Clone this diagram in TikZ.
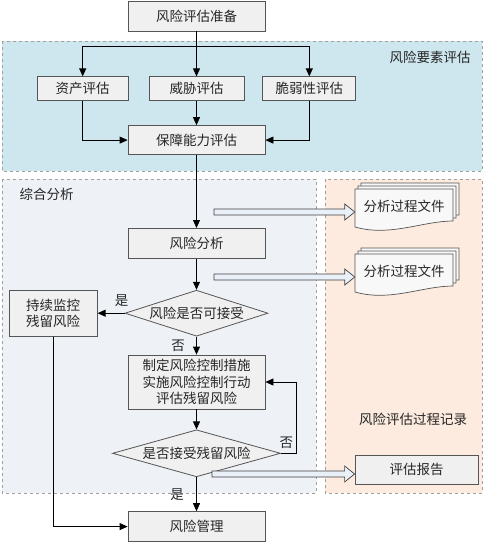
\documentclass[tikz,border=0pt]{standalone}
\usepackage{fontspec}
\setmainfont{Noto Sans CJK SC}
\usetikzlibrary{shapes.geometric, arrows.meta, calc, positioning}
\definecolor{zoneblue}{RGB}{206,231,238}
\definecolor{zonegray}{RGB}{238,241,246}
\definecolor{zoneorange}{RGB}{252,235,222}
\definecolor{boxfill}{RGB}{240,240,240}
\definecolor{boxline}{RGB}{85,85,85}
\definecolor{hollowfill}{RGB}{234,240,248}
\tikzstyle{block} = [rectangle, draw=boxline, fill=boxfill, line width=0.8pt, text centered, align=center, inner sep=2pt, minimum height=30pt]
\tikzstyle{decision} = [diamond, draw=boxline, fill=boxfill, line width=0.8pt, inner sep=0pt, aspect=3.2]
\tikzstyle{zone} = [draw=gray!75, dashed, line width=0.8pt]
\tikzstyle{arrow} = [line width=0.8pt,-{Triangle[length=8pt,width=7pt]}]
\tikzstyle{line} = [line width=0.8pt]
\tikzstyle{hollow} = [draw=black!75, fill=hollowfill, line width=0.7pt]
\tikzstyle{page} = [draw=boxline, fill=boxfill!50!white, line width=0.7pt]
\tikzstyle{doc} = [minimum width=98pt, minimum height=38pt, inner sep=0pt]
\newcommand{\hollowarrow}[2]{%
	\draw[hollow] ($#1+(0,-3)$) -- ($#2+(-10,-3)$) -- ($#2+(-10,-8)$) -- #2 -- ($#2+(-10,8)$) -- ($#2+(-10,3)$) -- ($#1+(0,3)$) -- cycle;}
\newcommand{\docstack}[1]{%
	\foreach \k in {2,1,0}{%
		\draw[page] ($#1+(-49+3*\k,-19-3*\k)$) -- ($#1+(49+3*\k,-19-3*\k)$) -- ($#1+(49+3*\k,13-3*\k)$) .. controls ($#1+(19+3*\k,13-3*\k)$) and ($#1+(-14+3*\k,29-3*\k)$) .. ($#1+(-49+3*\k,19-3*\k)$) -- cycle;
	}}
\begin{document}
\begin{tikzpicture}[x=1pt, y=-1pt, font=\fontsize{13.5}{16.5}\selectfont, text=black!85]
	\useasboundingbox (0,0) rectangle (500,552);
	% zones
	\draw[zone, fill=zoneblue] (2,41) rectangle (482,171);
	\draw[zone, fill=zonegray] (2,179) rectangle (316,493);
	\draw[zone, fill=zoneorange] (325,179) rectangle (482,493);
	\node (ZoneFactor) at (430,57) {风险要素评估};
	\node (ZoneAnalysis) [anchor=west] at (16,194) {综合分析};
	\node (ZoneRecord) at (413,419) {风险评估过程记录};
	% main column
	\node (Prepare) [block, minimum width=137pt] at (196.5,16) {风险评估准备};
	\node (Threat) [block, minimum width=95pt, minimum height=24pt, below = 45pt of Prepare] {威胁评估};
	\node (Asset) [block, minimum width=91pt, minimum height=24pt, left = 20pt of Threat] {资产评估};
	\node (Vuln) [block, minimum width=93pt, minimum height=24pt, right = 18pt of Threat] {脆弱性评估};
	\node (Guard) [block, minimum width=137pt, minimum height=29pt, below = 24pt of Threat] {保障能力评估};
	\node (Analysis) [block, minimum width=137pt, below = 73pt of Guard] {风险分析};
	\node (Accept) [decision, minimum width=143pt, minimum height=46pt, below = 31pt of Analysis] {风险是否可接受};
	\node (Monitor) [block, minimum width=88pt, minimum height=46pt, left = 27pt of Accept] {持续监控\\残留风险};
	\node (Control) [block, minimum width=137pt, minimum height=54pt, below = 18pt of Accept] {制定风险控制措施\\实施风险控制行动\\评估残留风险};
	\node (Residual) [decision, minimum width=168pt, minimum height=47pt, below = 20pt of Control] {是否接受残留风险};
	\node (Manage) [block, minimum width=137pt, below = 34pt of Residual] {风险管理};
	% records
	\coordinate (DocA) at (404,208);
	\coordinate (DocB) at (404,273);
	\docstack{(DocA)}
	\docstack{(DocB)}
	\node (Doc1) [doc, yshift=2pt] at (DocA) {分析过程文件};
	\node (Doc2) [doc, yshift=2pt] at (DocB) {分析过程文件};
	\node (Report) [block, minimum width=123pt, minimum height=29pt] at (416.5,469.5) {评估报告};
	% connectors
	\coordinate (Split) at (Prepare.south |- 0,46);
	\draw [arrow] (Prepare) -- (Threat);
	\draw [arrow] (Split) -| (Asset);
	\draw [arrow] (Split) -| (Vuln);
	\draw [arrow] (Asset) |- (Guard);
	\draw [arrow] (Vuln) |- (Guard);
	\draw [arrow] (Threat) -- (Guard);
	\draw [arrow] (Guard) -- (Analysis);
	\draw [arrow] (Analysis) -- (Accept);
	\draw [arrow] (Accept) -- node[left = 8pt]{否} (Control);
	\draw [arrow] (Accept) -- (Monitor);
	\node (YesA) at ($(Accept.west)+(-3,-13)$) {是};
	\draw [arrow] (Control) -- (Residual);
	\draw [arrow] (Residual.east) -- ++(15,0) node[above left = 1pt and -1pt]{否} |- (Control.east);
	\draw [arrow] (Residual) -- node[left = 9pt]{是} (Manage);
	\draw [arrow] (Monitor) |- (Manage);
	% hollow arrows
	\coordinate (H1) at (214,212);
	\coordinate (H2) at (214,277);
	\coordinate (H3) at (212,474);
	\coordinate (H1end) at (Doc1.west |- H1);
	\coordinate (H2end) at (Doc2.west |- H2);
	\coordinate (H3end) at (Report.west |- H3);
	\hollowarrow{(H1)}{(H1end)}
	\hollowarrow{(H2)}{(H2end)}
	\hollowarrow{(H3)}{(H3end)}
\end{tikzpicture}
\end{document}
